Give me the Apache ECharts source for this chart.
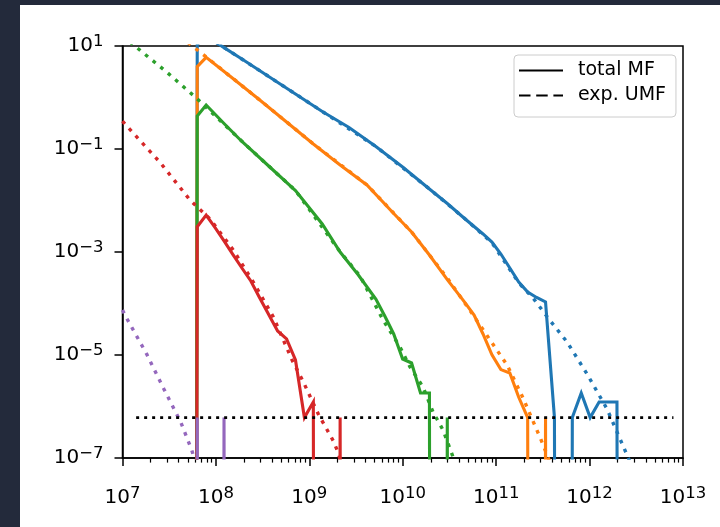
<!DOCTYPE html>
<html><head><meta charset="utf-8">
<script src="https://cdn.jsdelivr.net/npm/echarts@6/dist/echarts.min.js"></script>
<style>
html,body{margin:0;padding:0;background:#232a3b;width:720px;height:527px;overflow:hidden}
#chart{position:absolute;left:20px;top:5px;width:700px;height:522px;background:#fff}
</style></head><body><div id="chart"></div>
<script>
// ---- tick labels (decade exponents) ----
const xMajorExp = [7, 8, 9, 10, 11, 12, 13];
const yMajorExp = [-7, -5, -3, -1, 1];
const minorMultipliers = [2, 3, 4, 5, 6, 7, 8, 9];

// ---- total MF (solid), halo mass bins ----
const blueTotalMass = [5.06e7, 6.31e7, 7.86e7, 1.221e8, 1.897e8, 3.671e8, 7.105e8, 1.375e9, 2.662e9, 5.152e9, 9.97e9, 1.930e10, 2.998e10, 4.656e10, 7.230e10, 9.01e10, 1.123e11, 1.400e11, 1.744e11, 2.174e11, 2.709e11, 3.376e11, 4.207e11, 5.243e11, 6.534e11, 8.142e11, 1.0148e12, 1.2647e12, 1.576e12, 1.964e12, 2.448e12];
const blueTotalMF = [0, 10.7, 15.8, 9.31, 5.60, 2.56, 1.17, 0.535, 0.261, 0.112, 0.0447, 0.0167, 8.75e-3, 4.38e-3, 2.24e-3, 1.56e-3, 9.14e-4, 4.89e-4, 2.61e-4, 1.67e-4, 1.31e-4, 1.07e-4, 6.1e-7, 0, 6.1e-7, 1.83e-6, 6.1e-7, 1.22e-6, 1.22e-6, 1.22e-6, 0];

const orangeTotalMass = [5.06e7, 6.31e7, 7.86e7, 1.522e8, 2.946e8, 5.702e8, 1.1035e9, 2.136e9, 4.134e9, 8.000e9, 1.243e10, 1.930e10, 2.998e10, 4.656e10, 5.802e10, 7.230e10, 9.01e10, 1.123e11, 1.400e11, 1.744e11, 2.174e11, 2.709e11, 3.376e11, 4.207e11];
const orangeTotalMF = [0, 3.96, 6.03, 2.34, 0.893, 0.334, 0.125, 0.0489, 0.0200, 5.60e-3, 2.44e-3, 8.75e-4, 2.90e-4, 1.03e-4, 5.98e-5, 2.56e-5, 1.01e-5, 5.21e-6, 4.47e-6, 1.51e-6, 6.1e-7, 0, 6.1e-7, 0];

const greenTotalMass = [5.06e7, 6.31e7, 7.86e7, 1.221e8, 1.897e8, 3.671e8, 7.105e8, 1.375e9, 2.136e9, 3.317e9, 5.152e9, 6.420e9, 8.000e9, 9.97e9, 1.243e10, 1.549e10, 1.930e10, 2.405e10, 2.998e10, 3.736e10];
const greenTotalMF = [0, 0.438, 0.714, 0.313, 0.140, 0.0468, 0.0156, 3.50e-3, 1.0e-3, 3.66e-4, 1.22e-4, 5.71e-5, 2.56e-5, 8.36e-6, 7.0e-6, 1.83e-6, 1.83e-6, 0, 6.1e-7, 0];

const redTotalMass = [5.06e7, 6.31e7, 7.86e7, 9.80e7, 1.221e8, 1.522e8, 1.897e8, 2.364e8, 2.946e8, 3.671e8, 4.575e8, 5.702e8, 7.105e8, 8.855e8, 1.1035e9, 1.375e9, 1.714e9, 2.136e9, 2.662e9];
const redTotalMF = [0, 3.10e-3, 5.22e-3, 2.96e-3, 1.64e-3, 8.93e-4, 4.89e-4, 2.74e-4, 1.28e-4, 6.11e-5, 2.92e-5, 2.05e-5, 8.0e-6, 6.1e-7, 1.22e-6, 0, 0, 6.1e-7, 0];

const purpleTotalMass = [5.06e7, 6.31e7, 7.86e7, 9.80e7, 1.221e8, 1.522e8];
const purpleTotalMF = [0, 6.1e-7, 0, 0, 6.1e-7, 0];

// ---- expected UMF (dotted) ----
const blueUMFMass = [1.0e8, 3.672e8, 1.377e9, 5.16e9, 1.936e10, 4.667e10, 9.036e10, 1.750e11, 2.483e11, 3.597e11, 5.741e11, 9.397e11, 1.538e12, 2.518e12, 2.818e12];
const blueUMF = [11.8, 2.56, 0.535, 0.112, 0.0167, 4.38e-3, 1.50e-3, 2.50e-4, 1.28e-4, 5.22e-5, 1.79e-5, 4.28e-6, 8.93e-7, 1.14e-7, 7.1e-8];

const orangeUMFMass = [5.012e7, 5.728e7, 7.870e7, 2.951e8, 1.107e9, 4.150e9, 1.245e10, 3.006e10, 5.662e10, 8.610e10, 1.309e11, 1.941e11, 3.027e11, 3.508e11, 3.80e11];
const orangeUMF = [11.7, 9.68, 6.11, 0.893, 0.125, 0.0200, 2.44e-3, 3.1e-4, 5.98e-5, 1.95e-5, 6.40e-6, 1.46e-6, 2.24e-7, 1.14e-7, 7.9e-8];

const greenUMFMass = [1.0e7, 1.384e7, 2.904e7, 6.223e7, 2.371e8, 7.112e8, 2.143e9, 3.491e9, 6.152e9, 9.354e9, 1.197e10, 1.648e10, 2.109e10, 2.698e10, 3.459e10, 3.63e10];
const greenUMF = [15.8, 9.68, 3.23, 0.965, 0.0968, 0.0156, 1.0e-3, 3.42e-4, 4.79e-5, 1.43e-5, 5.85e-6, 2.39e-6, 7.82e-7, 3.50e-7, 1.04e-7, 8.0e-8];

const redUMFMass = [1.0e7, 1.109e7, 2.518e7, 5.284e7, 8.650e7, 1.535e8, 2.512e8, 4.121e8, 6.531e8, 8.630e8, 1.247e9, 1.807e9, 2.042e9, 2.19e9];
const redUMF = [0.348, 0.280, 0.0552, 0.0102, 4.38e-3, 1.09e-3, 2.61e-4, 5.47e-5, 8.0e-6, 2.99e-6, 7.14e-7, 2.14e-7, 1.25e-7, 8.0e-8];

const purpleUMFMass = [1.0e7, 1.109e7, 1.816e7, 2.780e7, 4.227e7, 5.508e7, 5.834e7, 6.03e7];
const purpleUMF = [7.48e-5, 5.16e-5, 1.04e-5, 2.16e-6, 4.85e-7, 1.43e-7, 1.0e-7, 8.0e-8];

// ---- one-halo level ----
const thresholdMass = [1.4e7, 7.9e12];
const thresholdMF = [6.1e-7, 6.1e-7];

// ---------------------------------------------------------------
const FLOOR = -100; // log10 of non-positive values (clipped like matplotlib)
const lg = v => (v > 0 ? Math.log10(v) : FLOOR);
const pairs = (ms, vs) => ms.map((m, i) => [Math.log10(m), lg(vs[i])]);

const palette = { blue: '#1f77b4', orange: '#ff7f0e', green: '#2ca02c', red: '#d62728', purple: '#9467bd' };
const groups = [
  ['blue', blueTotalMass, blueTotalMF, blueUMFMass, blueUMF],
  ['orange', orangeTotalMass, orangeTotalMF, orangeUMFMass, orangeUMF],
  ['green', greenTotalMass, greenTotalMF, greenUMFMass, greenUMF],
  ['red', redTotalMass, redTotalMF, redUMFMass, redUMF],
  ['purple', purpleTotalMass, purpleTotalMF, purpleUMFMass, purpleUMF]
];

const series = [];
groups.forEach(([c, tm, tv, um, uv]) => {
  series.push({ type: 'line', data: pairs(tm, tv), symbol: 'none', silent: true, clip: true,
    lineStyle: { color: palette[c], width: 3.1, join: 'miter' } });
  series.push({ type: 'line', data: pairs(um, uv), symbol: 'none', silent: true, clip: true,
    lineStyle: { color: palette[c], width: 3.4, type: [3.6, 6.2], cap: 'butt' } });
});
series.push({ type: 'line', data: pairs(thresholdMass, thresholdMF), symbol: 'none', silent: true,
  lineStyle: { color: '#000', width: 2.7, type: [3, 5], cap: 'butt' } });
series.push({ name: 'total MF', type: 'line', data: [], symbol: 'none',
  itemStyle: { color: '#000', opacity: 0 }, lineStyle: { color: '#000', width: 2.8 } });
series.push({ name: 'exp. UMF', type: 'line', data: [], symbol: 'none',
  itemStyle: { color: '#000', opacity: 0 }, lineStyle: { color: '#000', width: 2.8, type: [11.5, 5.7] } });

const minorTicks = [];
xMajorExp.slice(0, -1).forEach(e => minorMultipliers.forEach(m => minorTicks.push(e + Math.log10(m))));

const fmt = v => '{b|10}{s|' + String(Math.round(v)).replace('-', '\u2212') + '}';
const rich = {
  b: { fontSize: 20, fontFamily: 'DejaVu Sans', color: '#000', lineHeight: 26 },
  s: { fontSize: 16.5, fontFamily: 'DejaVu Sans', color: '#000', lineHeight: 12, verticalAlign: 'top' }
};

const axisLine = { show: true, onZero: false, lineStyle: { color: '#000', width: 1.5 } };
const chart = echarts.init(document.getElementById('chart'), null, { renderer: 'canvas' });
chart.setOption({
  animation: false,
  backgroundColor: '#ffffff',
  grid: { left: 102.5, top: 41, width: 560.5, height: 412, show: true, borderColor: '#000', borderWidth: 1.5, backgroundColor: 'transparent' },
  xAxis: [
    { type: 'value', min: 7, max: 13, position: 'bottom', axisLine: axisLine,
      axisTick: { show: true, length: 8, lineStyle: { color: '#000', width: 1.5 }, customValues: xMajorExp },
      axisLabel: { customValues: xMajorExp, formatter: fmt, rich: rich, margin: 27 },
      splitLine: { show: false } },
    { type: 'value', min: 7, max: 13, position: 'bottom',
      axisLine: { show: false, onZero: false },
      axisTick: { show: true, length: 4.6, lineStyle: { color: '#000', width: 1.2 }, customValues: minorTicks },
      axisLabel: { show: false }, splitLine: { show: false } }
  ],
  yAxis: { type: 'value', min: -7, max: 1, axisLine: axisLine,
    axisTick: { show: true, length: 8, lineStyle: { color: '#000', width: 1.5 }, customValues: yMajorExp },
    axisLabel: { customValues: yMajorExp, formatter: fmt, rich: rich, margin: 19 },
    splitLine: { show: false } },
  legend: { data: ['total MF', 'exp. UMF'], orient: 'vertical', left: 494, top: 50,
    itemWidth: 44, itemHeight: 14, itemGap: 6, padding: [6, 10, 12, 4], selectedMode: false,
    itemStyle: { opacity: 0 },
    backgroundColor: '#fff', borderColor: '#cccccc', borderWidth: 1, borderRadius: 4,
    textStyle: { fontSize: 19, fontFamily: 'DejaVu Sans', color: '#000', padding: [0, 0, 0, 10] } },
  series: series
});
</script></body></html>
